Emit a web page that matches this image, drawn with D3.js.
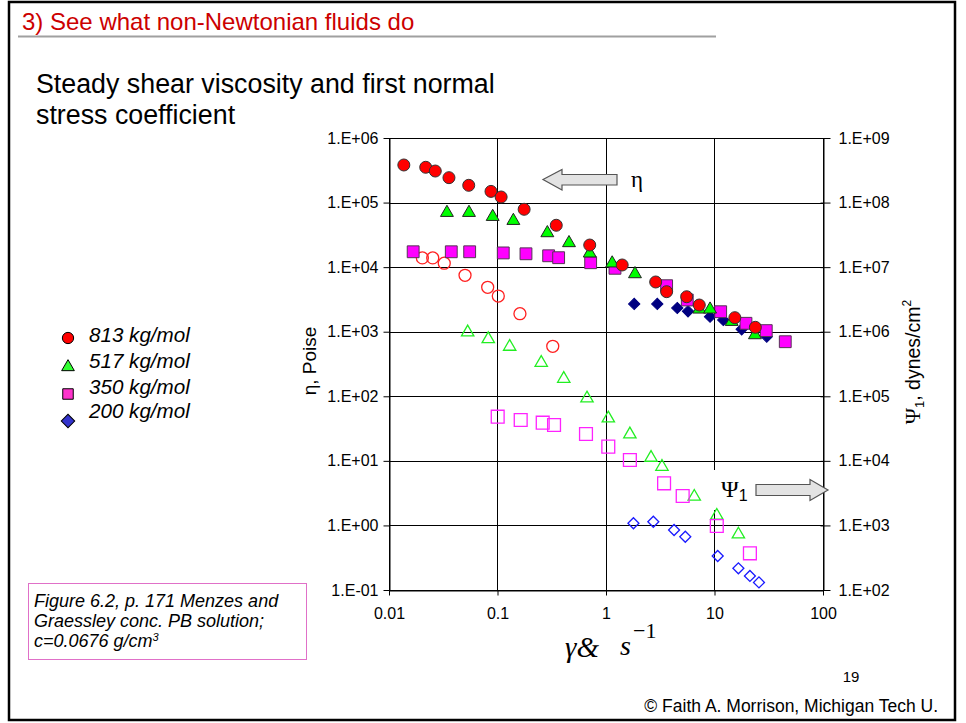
<!DOCTYPE html>
<html>
<head>
<meta charset="utf-8">
<script src="https://cdn.jsdelivr.net/npm/d3@7"></script>
<style>
  body { margin: 0; background: #fff; }
  svg { font-family: "Liberation Sans", Arial, sans-serif; }
</style>
</head>
<body>
<script>
// shear rate (1/s) and viscosity eta (Poise) - filled symbols, left axis
var rate813 = [0.0137, 0.0218, 0.0267, 0.0357, 0.0543, 0.0871, 0.108, 0.176, 0.348, 0.708, 1.41, 2.87, 3.62, 5.54, 7.24, 15.4, 23.8];
var eta813 = [3.82e5, 3.52e5, 3.08e5, 2.43e5, 1.85e5, 1.49e5, 1.22e5, 7.87e4, 4.45e4, 2.20e4, 1.08e4, 5.89e3, 4.17e3, 3.48e3, 2.59e3, 1.65e3, 1.17e3];

var rate517 = [0.0342, 0.0546, 0.0903, 0.140, 0.288, 0.456, 0.708, 1.14, 1.85, 7.24, 9.1, 14.4, 23.6];
var eta517 = [6.97e4, 6.97e4, 6.04e4, 5.24e4, 3.38e4, 2.37e4, 1.64e4, 1.15e4, 7.83e3, 2.22e3, 2.22e3, 1.43e3, 889];

var rate350 = [0.0167, 0.0375, 0.0554, 0.113, 0.183, 0.296, 0.366, 0.722, 1.21, 3.62, 5.61, 11.4, 19.5, 30.0, 44.9];
var eta350 = [1.73e4, 1.73e4, 1.73e4, 1.66e4, 1.61e4, 1.50e4, 1.40e4, 1.17e4, 9.6e3, 5.16e3, 3.10e3, 2.04e3, 1.35e3, 1.04e3, 700];

var rate200 = [1.82, 2.97, 4.54, 5.70, 9.1, 12.05, 17.8, 30.3];
var eta200 = [2.69e3, 2.69e3, 2.33e3, 2.07e3, 1.71e3, 1.52e3, 1.09e3, 837];

// first normal stress coefficient psi1 (dynes s^2/cm^2) - open symbols, right axis
var psiRate813 = [0.0203, 0.0253, 0.0323, 0.0502, 0.0812, 0.1017, 0.161, 0.323];
var psi813 = [1.39e7, 1.39e7, 1.15e7, 7.48e6, 4.87e6, 3.57e6, 1.90e6, 5.94e5];

var psiRate517 = [0.0531, 0.0822, 0.1295, 0.253, 0.408, 0.668, 1.05, 1.66, 2.60, 3.28, 6.51, 10.5, 16.6];
var psi517 = [9.8e5, 7.71e5, 5.86e5, 3.31e5, 1.87e5, 9.3e4, 4.56e4, 2.58e4, 1.12e4, 8.11e3, 2.79e3, 1.42e3, 728];

var psiRate350 = [0.1004, 0.1636, 0.261, 0.332, 0.654, 1.05, 1.66, 3.43, 5.09, 10.5, 21.2];
var psi350 = [4.83e4, 4.30e4, 3.90e4, 3.59e4, 2.61e4, 1.66e4, 1.03e4, 4.49e3, 2.86e3, 980, 370];

var psiRate200 = [1.79, 2.73, 4.24, 5.38, 10.7, 16.6, 21.2, 25.7];
var psi200 = [1.08e3, 1.14e3, 849, 668, 336, 217, 165, 131];

var seriesNames = ["813 kg/mol", "517 kg/mol", "350 kg/mol", "200 kg/mol"];

var xTicks = [0.01, 0.1, 1, 10, 100];
var xTickLabels = ["0.01", "0.1", "1", "10", "100"];
var yLeftTicks = [1e6, 1e5, 1e4, 1e3, 1e2, 1e1, 1e0, 1e-1];
var yLeftTickLabels = ["1.E+06", "1.E+05", "1.E+04", "1.E+03", "1.E+02", "1.E+01", "1.E+00", "1.E-01"];
var yRightTicks = [1e9, 1e8, 1e7, 1e6, 1e5, 1e4, 1e3, 1e2];
var yRightTickLabels = ["1.E+09", "1.E+08", "1.E+07", "1.E+06", "1.E+05", "1.E+04", "1.E+03", "1.E+02"];

// plot box
var plot = {left: 389, right: 823, top: 138, bottom: 590};
var serif = "'Liberation Serif', 'Times New Roman', serif";

var svg = d3.select("body")
  .append("svg")
    .attr("width", 966)
    .attr("height", 723);

svg.append("rect").attr("width", 966).attr("height", 723).attr("fill", "#fff");

// slide frame and header
svg.append("rect")
  .attr("x", 9).attr("y", 2)
  .attr("width", 946).attr("height", 718)
  .attr("fill", "none").attr("stroke", "#000").attr("stroke-width", 2.5);

svg.append("text")
  .attr("x", 22).attr("y", 30)
  .attr("font-size", "24px").attr("fill", "#cc0000")
  .text("3) See what non-Newtonian fluids do");

svg.append("line")
  .attr("x1", 18).attr("x2", 716).attr("y1", 36.5).attr("y2", 36.5)
  .attr("stroke", "#a0a0a0").attr("stroke-width", 2);

svg.append("text").attr("x", 36).attr("y", 93).attr("font-size", "26.8px")
  .text("Steady shear viscosity and first normal");
svg.append("text").attr("x", 36).attr("y", 124).attr("font-size", "26.8px")
  .text("stress coefficient");

// scales
var x = d3.scaleLog().domain([0.01, 100]).range([plot.left, plot.right]);
var yL = d3.scaleLog().domain([0.1, 1e6]).range([plot.bottom, plot.top]);
var yR = d3.scaleLog().domain([1e2, 1e9]).range([plot.bottom, plot.top]);

// gridlines
var grid = svg.append("g").attr("stroke", "#000").attr("stroke-width", 1);
grid.selectAll("line.h")
  .data(yLeftTicks)
  .enter().append("line")
    .attr("x1", plot.left).attr("x2", plot.right)
    .attr("y1", function (d) { return Math.round(yL(d)) + 0.5; })
    .attr("y2", function (d) { return Math.round(yL(d)) + 0.5; });
grid.selectAll("line.v")
  .data(xTicks)
  .enter().append("line")
    .attr("y1", plot.top).attr("y2", plot.bottom)
    .attr("x1", function (d) { return Math.round(x(d)) + 0.5; })
    .attr("x2", function (d) { return Math.round(x(d)) + 0.5; });

// axes
function styleAxis(g) {
  g.selectAll("text").attr("font-size", "16px").attr("fill", "#000")
    .style("font-family", "'Liberation Sans', Arial, sans-serif");
  g.selectAll("line").attr("stroke", "#000");
  g.select(".domain").attr("stroke", "#000");
}

svg.append("g")
  .attr("transform", "translate(" + (plot.left + 0.5) + ",0)")
  .call(d3.axisLeft(yL).tickValues(yLeftTicks)
    .tickFormat(function (d, i) { return yLeftTickLabels[i]; })
    .tickSize(6).tickSizeOuter(0).tickPadding(5))
  .call(styleAxis);

var right = svg.append("g")
  .attr("transform", "translate(" + (plot.right + 0.5) + ",0)")
  .call(d3.axisRight(yR).tickValues(yRightTicks)
    .tickFormat(function (d, i) { return yRightTickLabels[i]; })
    .tickSize(7).tickSizeOuter(0).tickPadding(8))
  .call(styleAxis);
right.selectAll(".tick line").attr("x1", -3);

svg.append("g")
  .attr("transform", "translate(0," + (plot.bottom + 0.5) + ")")
  .call(d3.axisBottom(x).tickValues(xTicks)
    .tickFormat(function (d, i) { return xTickLabels[i]; })
    .tickSize(5).tickSizeOuter(0).tickPadding(12))
  .call(styleAxis);

// axis titles
svg.append("text")
  .attr("transform", "translate(316,361) rotate(-90)")
  .attr("text-anchor", "middle").attr("font-size", "19px")
  .text("η, Poise");

var rt = svg.append("text")
  .attr("transform", "translate(920,362) rotate(-90)")
  .attr("text-anchor", "middle").attr("font-size", "19.5px");
rt.append("tspan").style("font-family", serif).attr("font-size", "22px").text("Ψ");
rt.append("tspan").attr("font-size", "13px").attr("dy", 4).text("1");
rt.append("tspan").attr("dy", -4).text(", dynes/cm");
rt.append("tspan").attr("font-size", "12px").attr("dy", -9).text("2");

var xl = svg.append("g").style("font-family", serif);
xl.append("text").attr("x", 565).attr("y", 657).attr("font-size", "29px")
  .attr("font-style", "italic").text("γ&");
xl.append("text").attr("x", 620).attr("y", 655).attr("font-size", "28px")
  .attr("font-style", "italic").text("s");
xl.append("text").attr("x", 633).attr("y", 638).attr("font-size", "22px")
  .text("−1");

// arrows with labels
svg.append("path")
  .attr("d", "M543,179.5 L562,169.5 L562,174.5 L617,174.5 L617,185 L562,185 L562,190 Z")
  .attr("fill", "#e3e3e3").attr("stroke", "#555").attr("stroke-width", 1.2);
svg.append("text").attr("x", 631).attr("y", 187).attr("font-size", "23px")
  .style("font-family", serif).text("η");

svg.append("rect").attr("x", 712).attr("y", 470).attr("width", 40).attr("height", 40).attr("fill", "#fff");
svg.append("path")
  .attr("d", "M756,484.5 L810,484.5 L810,479.5 L828,490 L810,500.5 L810,495.5 L756,495.5 Z")
  .attr("fill", "#e3e3e3").attr("stroke", "#555").attr("stroke-width", 1.2);
var pl = svg.append("text").attr("x", 721).attr("y", 497).attr("font-size", "23px");
pl.append("tspan").style("font-family", serif).attr("font-size", "24px").text("Ψ");
pl.append("tspan").attr("font-size", "16px").attr("dy", 4).text("1");

// markers
var sym = {
  circle: d3.symbol().type(d3.symbolCircle).size(113),
  triangle: d3.symbol().type(d3.symbolTriangle).size(72),
  square: d3.symbol().type(d3.symbolSquare).size(140),
  diamond: d3.symbol().type(d3.symbolSquare).size(64)
};
var openSym = {
  circle: d3.symbol().type(d3.symbolCircle).size(113),
  triangle: d3.symbol().type(d3.symbolTriangle).size(66),
  square: d3.symbol().type(d3.symbolSquare).size(165),
  diamond: d3.symbol().type(d3.symbolSquare).size(60)
};

function drawSeries(xs, ys, yScale, shape, gen, fill, stroke) {
  var pts = xs.map(function (d, i) { return [d, ys[i]]; });
  svg.append("g").selectAll("path")
    .data(pts)
    .enter()
    .append("path")
      .attr("d", gen[shape])
      .attr("transform", function (d) {
        return "translate(" + x(d[0]) + "," + yScale(d[1]) + ")" + (shape == "diamond" ? " rotate(45)" : "");
      })
      .attr("fill", fill)
      .attr("stroke", stroke)
      .attr("stroke-width", fill == "none" ? 1.3 : 1);
}

// open symbols (psi1)
drawSeries(psiRate813, psi813, yR, "circle", openSym, "none", "#ff2020");
drawSeries(psiRate517, psi517, yR, "triangle", openSym, "none", "#22ee22");
drawSeries(psiRate350, psi350, yR, "square", openSym, "none", "#ff22ff");
drawSeries(psiRate200, psi200, yR, "diamond", openSym, "none", "#1a1aff");

// filled symbols (eta)
drawSeries(rate200, eta200, yL, "diamond", sym, "#000080", "#000080");
drawSeries(rate350, eta350, yL, "square", sym, "#ff00ff", "#553355");
drawSeries(rate517, eta517, yL, "triangle", sym, "#00ff00", "#222");
drawSeries(rate813, eta813, yL, "circle", sym, "#ff0000", "#333");

// legend
var legendShapes = ["circle", "triangle", "square", "diamond"];
var legendFills = ["#ff0000", "#33ff33", "#ff33cc", "#3333cc"];
var legendMarkY = [338, 367, 394, 421];
var legendTextY = [342, 368, 394, 418];
var legSym = {
  circle: d3.symbol().type(d3.symbolCircle).size(100),
  triangle: d3.symbol().type(d3.symbolTriangle).size(70),
  square: d3.symbol().type(d3.symbolSquare).size(110),
  diamond: d3.symbol().type(d3.symbolSquare).size(90)
};
var legend = svg.append("g");
legend.selectAll("path")
  .data(legendShapes)
  .enter().append("path")
    .attr("d", function (d) { return legSym[d](); })
    .attr("transform", function (d, i) { return "translate(68," + legendMarkY[i] + ")" + (d == "diamond" ? " rotate(45)" : ""); })
    .attr("fill", function (d, i) { return legendFills[i]; })
    .attr("stroke", "#000").attr("stroke-width", 1);
legend.selectAll("text")
  .data(seriesNames)
  .enter().append("text")
    .attr("x", 89)
    .attr("y", function (d, i) { return legendTextY[i]; })
    .attr("font-size", "20.6px").attr("font-style", "italic")
    .text(function (d) { return d; });

// source box
svg.append("rect")
  .attr("x", 28.5).attr("y", 583.5).attr("width", 278).attr("height", 76)
  .attr("fill", "#fff").attr("stroke", "#e070c8").attr("stroke-width", 1);
var cap = svg.append("g").attr("font-size", "18px").attr("font-style", "italic");
cap.append("text").attr("x", 34).attr("y", 607).text("Figure 6.2, p. 171 Menzes and");
cap.append("text").attr("x", 34).attr("y", 627).text("Graessley conc. PB solution;");
var c3 = cap.append("text").attr("x", 34).attr("y", 647).text("c=0.0676 g/cm");
c3.append("tspan").attr("font-size", "11px").attr("dy", -6).text("3");

// footer
svg.append("text").attr("x", 851).attr("y", 682).attr("text-anchor", "middle")
  .attr("font-size", "15px").text("19");
svg.append("text").attr("x", 938).attr("y", 712).attr("text-anchor", "end")
  .attr("font-size", "17.5px").text("© Faith A. Morrison, Michigan Tech U.");
</script>
</body>
</html>
